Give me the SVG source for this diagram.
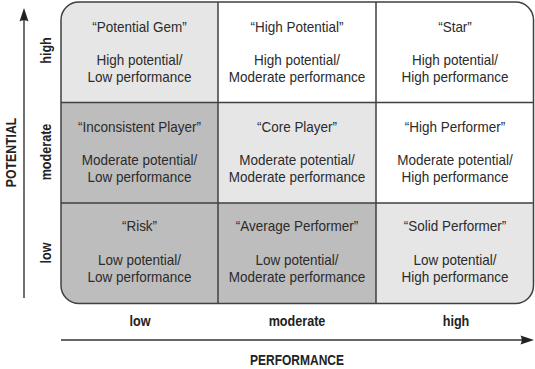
<svg xmlns="http://www.w3.org/2000/svg" width="535" height="369" viewBox="0 0 535 369">
<style>
.cell{font-family:"Liberation Sans",Arial,sans-serif;font-size:15px;fill:#2b2b2b;text-anchor:middle}
.lbl{font-family:"Liberation Sans",Arial,sans-serif;font-size:14.5px;font-weight:bold;fill:#222;text-anchor:middle}
.ax{font-family:"Liberation Sans",Arial,sans-serif;font-size:15px;font-weight:bold;fill:#222;text-anchor:middle}
.grid{fill:none;stroke:#404040;stroke-width:1.5}
.axis{fill:none;stroke:#333;stroke-width:1.4}
.lt{fill:#e6e6e6}.dk{fill:#bdbdbd}.wh{fill:#ffffff}
</style>
<defs>
<clipPath id="gclip"><rect x="61" y="2" width="472.5" height="301.5" rx="18" ry="18"/></clipPath>
</defs>
<g id="cells" clip-path="url(#gclip)">
<g id="potential-gem"><rect class="lt" x="61" y="2" width="157" height="100.5"/>
<text class="cell" transform="matrix(0.9 0 0 1 139.5 32)">“Potential Gem”</text>
<text class="cell" transform="matrix(0.9 0 0 1 139.5 65)">High potential/</text>
<text class="cell" transform="matrix(0.9 0 0 1 139.5 82)">Low performance</text></g>
<g id="high-potential"><rect class="wh" x="218" y="2" width="158" height="100.5"/>
<text class="cell" transform="matrix(0.9 0 0 1 297 32)">“High Potential”</text>
<text class="cell" transform="matrix(0.9 0 0 1 297 65)">High potential/</text>
<text class="cell" transform="matrix(0.9 0 0 1 297 82)">Moderate performance</text></g>
<g id="star"><rect class="wh" x="376" y="2" width="158" height="100.5"/>
<text class="cell" transform="matrix(0.9 0 0 1 455 32)">“Star”</text>
<text class="cell" transform="matrix(0.9 0 0 1 455 65)">High potential/</text>
<text class="cell" transform="matrix(0.9 0 0 1 455 82)">High performance</text></g>
<g id="inconsistent-player"><rect class="dk" x="61" y="102.5" width="157" height="100.5"/>
<text class="cell" transform="matrix(0.9 0 0 1 139.5 132)">“Inconsistent Player”</text>
<text class="cell" transform="matrix(0.9 0 0 1 139.5 165)">Moderate potential/</text>
<text class="cell" transform="matrix(0.9 0 0 1 139.5 182)">Low performance</text></g>
<g id="core-player"><rect class="lt" x="218" y="102.5" width="158" height="100.5"/>
<text class="cell" transform="matrix(0.9 0 0 1 297 132)">“Core Player”</text>
<text class="cell" transform="matrix(0.9 0 0 1 297 165)">Moderate potential/</text>
<text class="cell" transform="matrix(0.9 0 0 1 297 182)">Moderate performance</text></g>
<g id="high-performer"><rect class="wh" x="376" y="102.5" width="158" height="100.5"/>
<text class="cell" transform="matrix(0.9 0 0 1 455 132)">“High Performer”</text>
<text class="cell" transform="matrix(0.9 0 0 1 455 165)">Moderate potential/</text>
<text class="cell" transform="matrix(0.9 0 0 1 455 182)">High performance</text></g>
<g id="risk"><rect class="dk" x="61" y="203" width="157" height="101"/>
<text class="cell" transform="matrix(0.9 0 0 1 139.5 231)">“Risk”</text>
<text class="cell" transform="matrix(0.9 0 0 1 139.5 265)">Low potential/</text>
<text class="cell" transform="matrix(0.9 0 0 1 139.5 282)">Low performance</text></g>
<g id="average-performer"><rect class="dk" x="218" y="203" width="158" height="101"/>
<text class="cell" transform="matrix(0.9 0 0 1 297 231)">“Average Performer”</text>
<text class="cell" transform="matrix(0.9 0 0 1 297 265)">Low potential/</text>
<text class="cell" transform="matrix(0.9 0 0 1 297 282)">Moderate performance</text></g>
<g id="solid-performer"><rect class="lt" x="376" y="203" width="158" height="101"/>
<text class="cell" transform="matrix(0.9 0 0 1 455 231)">“Solid Performer”</text>
<text class="cell" transform="matrix(0.9 0 0 1 455 265)">Low potential/</text>
<text class="cell" transform="matrix(0.9 0 0 1 455 282)">High performance</text></g>
</g>
<g id="grid">
<rect class="grid" x="61" y="2" width="472.5" height="301.5" rx="18" ry="18"/>
<path class="grid" d="M218 2V303.5M376 2V303.5M61 102.5H533.5M61 203H533.5"/>
</g>
<g id="connectors">
<path class="axis" d="M24 298V18"/>
<path d="M24 8L28.5 21.5Q24 19 19.5 21.5Z" fill="#222"/>
<path class="axis" d="M61 340H524"/>
<path d="M534 340L520.5 344.5Q523 340 520.5 335.5Z" fill="#222"/>
</g>
<g id="labels">
<text class="ax" transform="matrix(0 -0.82 1 0 16 152.5)">POTENTIAL</text>
<text class="lbl" transform="matrix(0 -0.87 1 0 50.5 50.5)">high</text>
<text class="lbl" transform="matrix(0 -0.87 1 0 50.5 152)">moderate</text>
<text class="lbl" transform="matrix(0 -0.87 1 0 50.5 253)">low</text>
<text class="lbl" transform="matrix(0.87 0 0 1 140 326)">low</text>
<text class="lbl" transform="matrix(0.87 0 0 1 297 326)">moderate</text>
<text class="lbl" transform="matrix(0.87 0 0 1 456 326)">high</text>
<text class="ax" transform="matrix(0.8 0 0 1 297 365)">PERFORMANCE</text>
</g>
</svg>
